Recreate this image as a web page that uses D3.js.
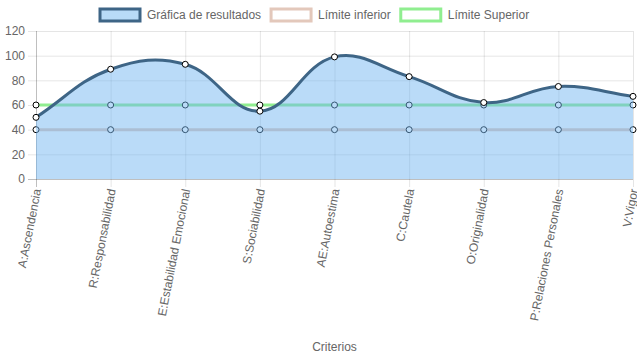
<!DOCTYPE html>
<html>
<head>
<meta charset="utf-8">
<script src="https://cdn.jsdelivr.net/npm/d3@7"></script>
<style>
  body { margin: 0; background: #fff; }
  svg { font-family: "Liberation Sans", Arial, Helvetica, sans-serif; }
</style>
</head>
<body>
<div id="chart"></div>
<script>
/*------ data ------*/
var criterios = ["A:Ascendencia", "R:Responsabilidad", "E:Estabilidad Emocional", "S:Sociabilidad",
  "AE:Autoestima", "C:Cautela", "O:Originalidad", "P:Relaciones Personales", "V:Vigor"];
var resultados = [50, 89, 93, 55, 99, 83, 62, 75, 67];
var limiteInferior = [40, 40, 40, 40, 40, 40, 40, 40, 40];
var limiteSuperior = [60, 60, 60, 60, 60, 60, 60, 60, 60];
var yTicks = [0, 20, 40, 60, 80, 100, 120];
var legendNames = ["Gráfica de resultados", "Límite inferior", "Límite Superior"];

var width = 637, height = 359;
var plotLeft = 36, plotRight = 633, plotTop = 31, plotBottom = 179;

var svg = d3.select("#chart").append("svg")
  .attr("width", width)
  .attr("height", height);

var x = d3.scalePoint().domain(criterios).range([plotLeft, plotRight]);
var y = d3.scaleLinear().domain([0, 120]).range([plotBottom, plotTop]);

/*------ grid ------*/
svg.selectAll(".hgrid")
  .data(yTicks)
  .enter().append("line")
  .attr("x1", plotLeft - 8).attr("x2", plotRight)
  .attr("y1", function(d) { return y(d) + 0.5; })
  .attr("y2", function(d) { return y(d) + 0.5; })
  .attr("stroke", function(d) { return d == 0 ? "rgba(0,0,0,0.25)" : "rgba(0,0,0,0.1)"; });

svg.selectAll(".vgrid")
  .data(criterios)
  .enter().append("line")
  .attr("x1", function(d) { return x(d) + 0.5; })
  .attr("x2", function(d) { return x(d) + 0.5; })
  .attr("y1", plotTop).attr("y2", plotBottom + 8)
  .attr("stroke", function(d, i) { return i == 0 ? "rgba(0,0,0,0.25)" : "rgba(0,0,0,0.1)"; });

svg.selectAll(".ylab")
  .data(yTicks)
  .enter().append("text")
  .attr("x", plotLeft - 11)
  .attr("y", function(d) { return y(d); })
  .attr("dy", "0.35em")
  .attr("text-anchor", "end")
  .attr("fill", "#666")
  .style("font-size", "12px")
  .text(function(d) { return d; });

svg.selectAll(".xlab")
  .data(criterios)
  .enter().append("text")
  .attr("transform", function(d) { return "translate(" + (x(d) + 1) + "," + (plotBottom + 10) + ") rotate(-79)"; })
  .attr("dy", "0.35em")
  .attr("text-anchor", "end")
  .attr("fill", "#666")
  .style("font-size", "12px")
  .text(function(d) { return d; });

svg.append("text")
  .attr("x", (plotLeft + plotRight) / 2)
  .attr("y", 351)
  .attr("text-anchor", "middle")
  .attr("fill", "#666")
  .style("font-size", "12px")
  .text("Criterios");

/*------ chart.js style spline ------*/
function splinePath(values, close) {
  var pts = values.map(function(v, i) { return [x(criterios[i]), y(v)]; });
  var t = 0.4;
  var cps = pts.map(function(p, i) {
    var prev = pts[i - 1] || p, next = pts[i + 1] || p;
    var d01 = Math.hypot(p[0] - prev[0], p[1] - prev[1]);
    var d12 = Math.hypot(next[0] - p[0], next[1] - p[1]);
    var s01 = d01 / (d01 + d12), s12 = d12 / (d01 + d12);
    if (isNaN(s01)) s01 = 0;
    if (isNaN(s12)) s12 = 0;
    var fa = t * s01, fb = t * s12;
    var c1 = [p[0] - fa * (next[0] - prev[0]), p[1] - fa * (next[1] - prev[1])];
    var c2 = [p[0] + fb * (next[0] - prev[0]), p[1] + fb * (next[1] - prev[1])];
    c1[1] = Math.max(plotTop, Math.min(plotBottom, c1[1]));
    c2[1] = Math.max(plotTop, Math.min(plotBottom, c2[1]));
    return [c1, c2];
  });
  var path = d3.path();
  path.moveTo(pts[0][0], pts[0][1]);
  for (var i = 1; i < pts.length; i++) {
    path.bezierCurveTo(cps[i - 1][1][0], cps[i - 1][1][1], cps[i][0][0], cps[i][0][1], pts[i][0], pts[i][1]);
  }
  if (close) {
    path.lineTo(pts[pts.length - 1][0], y(0));
    path.lineTo(pts[0][0], y(0));
    path.closePath();
  }
  return path.toString();
}

function drawLine(values, color, w) {
  svg.append("path")
    .attr("d", splinePath(values, false))
    .attr("fill", "none")
    .attr("stroke", color)
    .attr("stroke-width", w);
}

function drawPoints(values) {
  svg.append("g").selectAll("circle")
    .data(values)
    .enter().append("circle")
    .attr("cx", function(d, i) { return x(criterios[i]); })
    .attr("cy", function(d) { return y(d); })
    .attr("r", 3)
    .attr("fill", "#fff")
    .attr("stroke", "#000")
    .attr("stroke-width", 1);
}

var colors = {
  res: "#3e6586",
  resFill: "rgba(110,180,240,0.48)",
  inf: "#e3c8bb",
  sup: "#90ee90"
};

// last dataset first, so the results fill lies on top
drawLine(limiteSuperior, colors.sup, 3);
drawPoints(limiteSuperior);
drawLine(limiteInferior, colors.inf, 3);
drawPoints(limiteInferior);

svg.append("path")
  .attr("d", splinePath(resultados, true))
  .attr("fill", colors.resFill);
drawLine(resultados, colors.res, 3);
drawPoints(resultados);

/*------ legend ------*/
var legendStroke = [colors.res, colors.inf, colors.sup];
var legendFill = ["#b8dbf8", "#fff", "#fff"];
var lx = 100;
legendNames.forEach(function(name, i) {
  svg.append("rect")
    .attr("x", lx).attr("y", 9)
    .attr("width", 40).attr("height", 12)
    .attr("fill", legendFill[i])
    .attr("stroke", legendStroke[i])
    .attr("stroke-width", 3);
  var t = svg.append("text")
    .attr("x", lx + 47)
    .attr("y", 15)
    .attr("dy", "0.35em")
    .attr("fill", "#666")
    .style("font-size", "12px")
    .text(name);
  lx += 47 + t.node().getComputedTextLength() + 10;
});
</script>
</body>
</html>
